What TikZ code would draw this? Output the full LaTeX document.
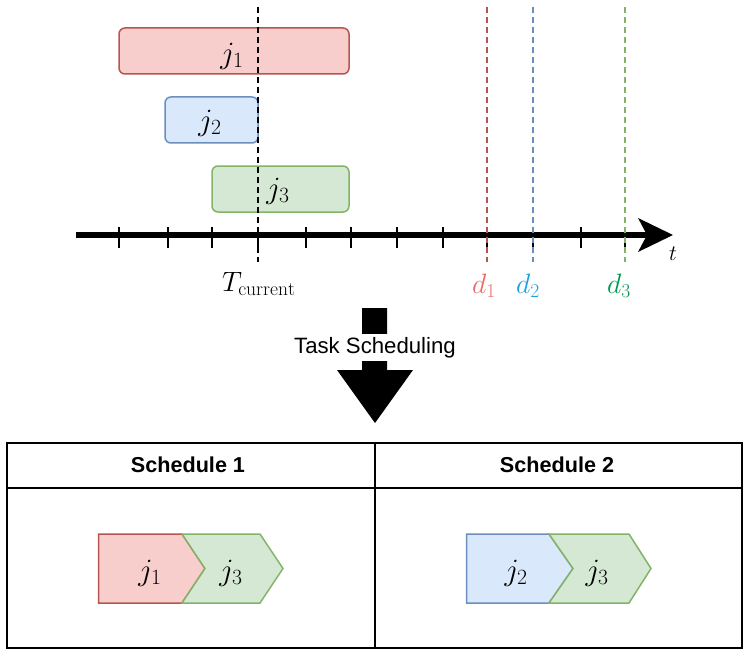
\RequirePackage{fix-cm}
\documentclass[tikz,border=0pt]{standalone}
\usepackage{fontspec}
\newfontfamily\arialfont{Liberation Sans}
\definecolor{redfill}{HTML}{F8CECC}
\definecolor{redline}{HTML}{B85450}
\definecolor{bluefill}{HTML}{DAE8FC}
\definecolor{blueline}{HTML}{6C8EBF}
\definecolor{greenfill}{HTML}{D5E8D4}
\definecolor{greenline}{HTML}{82B366}
\definecolor{dred}{HTML}{EA6B66}
\definecolor{dblue}{HTML}{1BA1E2}
\definecolor{dgreen}{HTML}{00994D}
\begin{document}
\begin{tikzpicture}[x=1pt,y=-1pt,
  jobbox/.style={draw,rounded corners=6pt,line width=1.5pt,inner sep=0pt},
  mathlabel/.style={inner sep=0pt,font=\fontsize{28}{32}\selectfont},
  joblabel/.style={inner sep=0pt,font=\fontsize{31}{35}\selectfont},
  deadline/.style={line width=1.5pt,dash pattern=on 6pt off 4pt},
  tickmark/.style={line width=1.6pt},
  cell/.style={line width=2pt},
  header/.style={inner sep=0pt,anchor=base,font=\arialfont\bfseries\fontsize{21.6}{25}\selectfont},
  chev/.style={line width=1.5pt,line join=miter}]
\useasboundingbox (0,0) rectangle (744,650);

% job intervals
\node[jobbox,fill=redfill,draw=redline,minimum width=230pt,minimum height=46pt] (b1) at (234,51) {};
\node[jobbox,fill=bluefill,draw=blueline,minimum width=93pt,minimum height=46pt] (b2) at (211.5,120) {};
\node[jobbox,fill=greenfill,draw=greenline,minimum width=137pt,minimum height=46pt] (b3) at (280.5,189) {};
\node[joblabel] (lj1) at (232,56) {$j_1$};
\node[joblabel] (lj2) at (210,123) {$j_2$};
\node[joblabel] (lj3) at (278,191) {$j_3$};

% time axis with ticks
\coordinate (axs) at (76,235);
\coordinate (axe) at (648,235);
\draw[line width=6pt] (axs) -- (axe);
\fill (638,218) -- (673,235) -- (638,252) -- (647,235) -- cycle;
\foreach \x in {119,168,212,258,306,351,397,443,487,533,581,625}
  \draw[tickmark] (\x,227) -- (\x,248);
\node[inner sep=0pt,font=\fontsize{22}{26}\selectfont] (tl) at (673,254) {$t$};

% current time and deadlines
\coordinate (tc0) at (258,7);
\coordinate (tc1) at (258,262);
\draw[deadline,black] (tc0) -- (tc1);
\coordinate (d10) at (487,7);
\coordinate (d11) at (487,262);
\draw[deadline,redline] (d10) -- (d11);
\coordinate (d20) at (533,7);
\coordinate (d21) at (533,262);
\draw[deadline,blueline] (d20) -- (d21);
\coordinate (d30) at (625,7);
\coordinate (d31) at (625,262);
\draw[deadline,greenline] (d30) -- (d31);
\node[mathlabel,anchor=base west] (ltc) at (222,291) {$T_{\mathrm{current}}$};
\node[mathlabel,anchor=base west,text=dred] (ld1) at (472,293) {$d_1$};
\node[mathlabel,anchor=base west,text=dblue] (ld2) at (516,293) {$d_2$};
\node[mathlabel,anchor=base west,text=dgreen] (ld3) at (607,293) {$d_3$};

% block arrow
\fill (362,308) -- (387,308) -- (387,370) -- (413,370) -- (375,423) -- (337,370) -- (362,370) -- cycle;
\node[fill=white,inner xsep=1pt,inner ysep=3pt,anchor=base,font=\arialfont\fontsize{22.2}{26}\selectfont] (ts) at (375,353) {Task Scheduling};

% schedule table
\draw[cell] (7,443) rectangle (742,648);
\draw[cell] (7,488) -- (742,488);
\draw[cell] (375,443) -- (375,648);
\node[header] (h1) at (188,472) {Schedule 1};
\node[header] (h2) at (557,472) {Schedule 2};

% schedule 1
\filldraw[chev,fill=redfill,draw=redline] (98.5,534) -- (182,534) -- (205,568.5) -- (182,603) -- (98.5,603) -- cycle;
\filldraw[chev,fill=greenfill,draw=greenline] (182,534) -- (260,534) -- (283,568.5) -- (260,603) -- (182,603) -- (205,568.5) -- cycle;
\node[joblabel] (s1a) at (150,573) {$j_1$};
\node[joblabel] (s1b) at (231,573) {$j_3$};

% schedule 2
\filldraw[chev,fill=bluefill,draw=blueline] (466.5,534) -- (549,534) -- (573,568.5) -- (549,603) -- (466.5,603) -- cycle;
\filldraw[chev,fill=greenfill,draw=greenline] (549,534) -- (629,534) -- (651,568.5) -- (629,603) -- (549,603) -- (573,568.5) -- cycle;
\node[joblabel] (s2a) at (516,573) {$j_2$};
\node[joblabel] (s2b) at (597,573) {$j_3$};
\end{tikzpicture}
\end{document}
